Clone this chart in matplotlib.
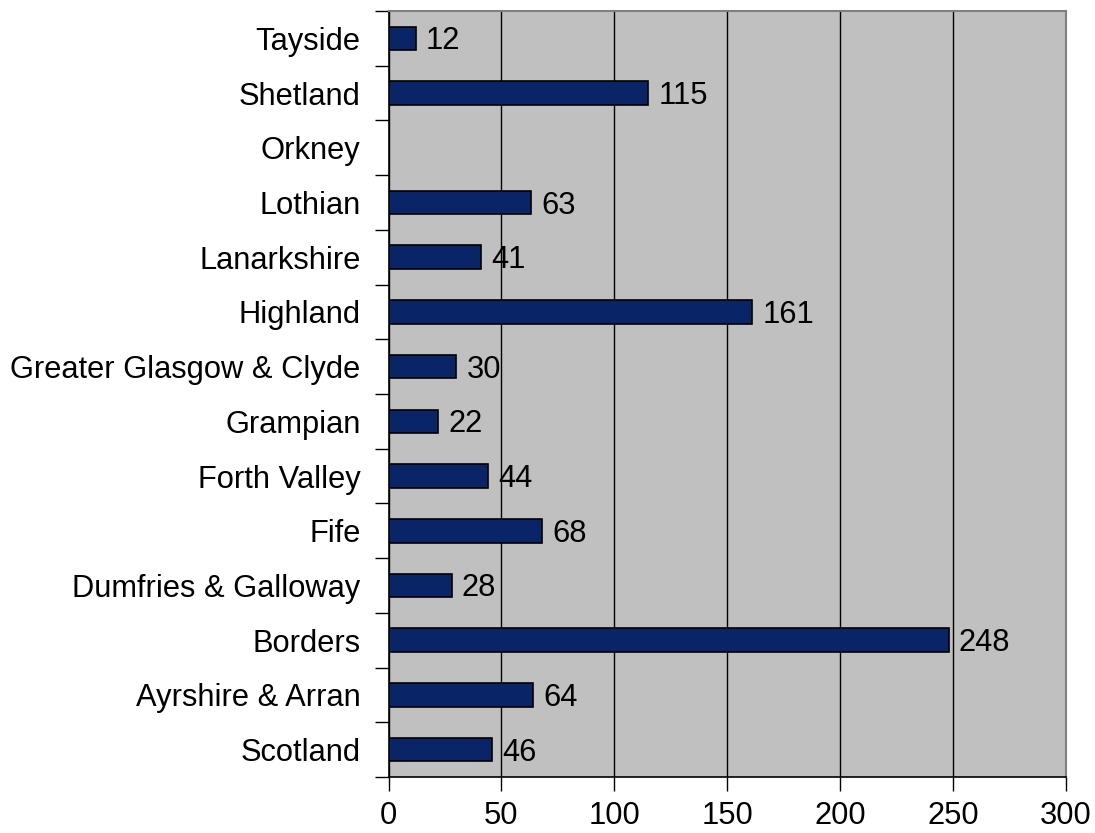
import matplotlib.pyplot as plt
import matplotlib.transforms as mtransforms
import numpy as np

plt.rcParams['font.family'] = ['Liberation Sans', 'DejaVu Sans']

regions = ["Scotland", "Ayrshire & Arran", "Borders", "Dumfries & Galloway", "Fife",
           "Forth Valley", "Grampian", "Greater Glasgow & Clyde", "Highland",
           "Lanarkshire", "Lothian", "Orkney", "Shetland", "Tayside"]
values = [46, 64, 248, 28, 68, 44, 22, 30, 161, 41, 63, None, 115, 12]
x_ticks = [0, 50, 100, 150, 200, 250, 300]

FS = 22.2

fig = plt.figure(figsize=(10.95, 8.33), dpi=100)
ax = fig.add_axes([388.5 / 1095, 1 - 777 / 833, (1066 - 388.5) / 1095, (777 - 11) / 833])

ax.set_facecolor('#C0C0C0')
ypos = np.arange(len(regions))
# value labels sit a touch lower so the digits look centred on the bar
label_shift = mtransforms.offset_copy(ax.transData, fig=fig, x=0, y=-3, units='dots')
for y, v in zip(ypos, values):
    if v is None:
        continue
    ax.barh(y, v, height=0.43, color='#0A2468', edgecolor='black', linewidth=1.2, zorder=3)
    ax.text(v + 4.5, y, str(v), va='center', ha='left', fontsize=FS, color='black',
            zorder=4, transform=label_shift)

ax.set_xlim(0, 300)
ax.set_ylim(-0.5, len(regions) - 0.5)
ax.set_xticks(x_ticks)
ax.set_xticklabels([str(t) for t in x_ticks], fontsize=FS)
ax.xaxis.grid(True, color='black', linewidth=1.0, zorder=1)
ax.set_axisbelow(True)

# Category labels centred on the bars, ticks between categories
ax.set_yticks(ypos)
ax.set_yticklabels(regions, fontsize=FS)
ax.tick_params(axis='y', which='major', length=0, pad=20)
ax.set_yticks(np.arange(-0.5, len(regions)), minor=True)
ax.tick_params(axis='y', which='minor', length=10, width=1, color='black', direction='out')
ax.tick_params(axis='x', length=10, width=1, direction='out', pad=7)

for side in ['top', 'right']:
    ax.spines[side].set_color('#808080')
    ax.spines[side].set_linewidth(1.5)
for side in ['left', 'bottom']:
    ax.spines[side].set_color('black')
    ax.spines[side].set_linewidth(1.2)

fig.savefig('out.png', dpi=100)
